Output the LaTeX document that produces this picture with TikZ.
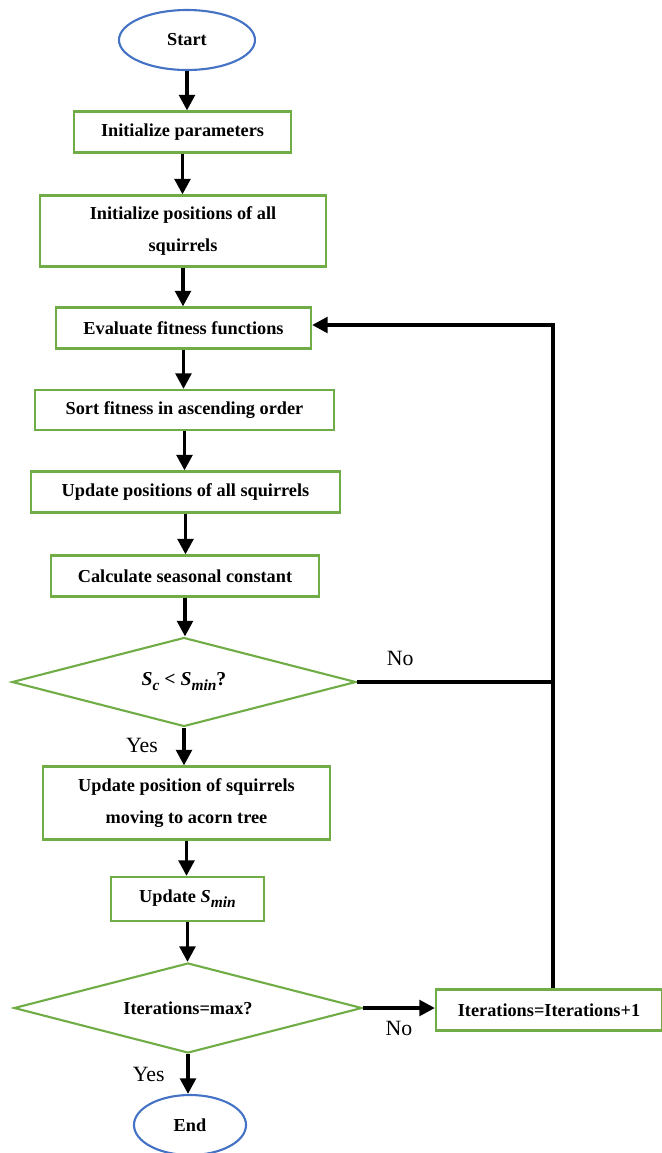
\documentclass[tikz,border=0pt]{standalone}
\usepackage{fontspec}
\setmainfont{Liberation Serif}
\usetikzlibrary{shapes.geometric,arrows.meta}
\newcommand{\seaidx}[2]{\textit{#1\raisebox{-3.5pt}{\fontsize{11}{12}\selectfont #2}}}

\begin{document}
\begin{tikzpicture}[x=0.025cm,y=-0.025cm,
    proc/.style={draw={rgb,255:red,112;green,173;blue,71}, line width=1.5pt,
      minimum height=1.025cm, inner sep=2pt, align=center, font=\fontsize{13}{23}\selectfont\bfseries},
    term/.style={ellipse, draw={rgb,255:red,68;green,114;blue,196}, line width=1.5pt,
      minimum width=3.4cm, minimum height=1.5cm, inner sep=0pt, font=\fontsize{13}{15}\selectfont\bfseries},
    decide/.style={diamond, aspect=3.9, draw={rgb,255:red,112;green,173;blue,71}, line width=1.5pt,
      minimum width=8.6cm, minimum height=2.225cm, inner sep=0pt, font=\fontsize{13}{15}\selectfont\bfseries},
    flow/.style={line width=2.6pt, -{Triangle[length=11pt,width=11pt]}},
    link/.style={line width=2.6pt},
    lbl/.style={font=\fontsize{15.5}{18}\selectfont}]
  \useasboundingbox (0,0) rectangle (662,1153);

  \node[term] (start) at (187,40) {Start};
  \node[proc, minimum width=5.425cm] (initp) at (182.5,132) {Initialize parameters};
  \node[proc, minimum width=7.15cm, minimum height=1.775cm] (inits) at (183,231)
    {Initialize positions of all\\squirrels};
  \node[proc, minimum width=6.375cm] (eval) at (183.5,328) {Evaluate fitness functions};
  \node[proc, minimum width=7.475cm, minimum height=1cm] (sort) at (184.5,410) {Sort fitness in ascending order};
  \node[proc, minimum width=7.725cm] (upd) at (185.5,492) {Update positions of all squirrels};
  \node[proc, minimum width=6.7cm] (calc) at (185,576) {Calculate seasonal constant};
  \node[decide, font=\fontsize{14}{15}\selectfont\bfseries] (chk) at (184,682)
    {\seaidx{S}{c} \textless{} \seaidx{S}{min}?};
  \node[proc, minimum width=7.175cm, minimum height=1.825cm] (acorn) at (186.5,803)
    {Update position of squirrels\\moving to acorn tree};
  \node[proc, minimum width=3.825cm, minimum height=1.1cm] (smin) at (187.5,899)
    {Update \seaidx{S}{min}};
  \node[decide, minimum width=8.7cm, minimum height=2.25cm] (iter) at (188,1008) {Iterations=max?};
  \node[proc, minimum width=5.65cm] (inc) at (549,1010) {Iterations=Iterations+1};
  \node[term, minimum width=2.8cm] (end) at (190,1125) {End};

  \coordinate (turn) at (553,325);

  \draw[flow] (start) -- (start |- initp.north);
  \draw[flow] (initp) -- (initp |- inits.north);
  \draw[flow] (inits) -- (inits |- eval.north);
  \draw[flow] (eval) -- (eval |- sort.north);
  \draw[flow] (sort) -- (sort |- upd.north);
  \draw[flow] (upd) -- (upd |- calc.north);
  \draw[flow] (calc) -- (calc |- chk.north);
  \draw[flow] (chk) -- (chk |- acorn.north) node[lbl, at start, anchor=north east, xshift=-14pt, yshift=-3pt] {Yes};
  \draw[flow] (acorn) -- (acorn |- smin.north);
  \draw[flow] (smin) -- (smin |- iter.north);
  \draw[flow] (iter) -- (iter |- end.north) node[lbl, at start, anchor=north east, xshift=-12pt, yshift=-5pt] {Yes};
  \draw[flow] (iter.east) -- (inc.west |- iter.east) node[lbl, midway, below=5pt] {No};
  \draw[link] (chk.east) -- (chk.east -| turn) node[lbl, pos=0.22, above=7pt] {No};
  \draw[flow] (turn |- inc.north) -- (turn) -- (eval.east |- turn);
\end{tikzpicture}
\end{document}
